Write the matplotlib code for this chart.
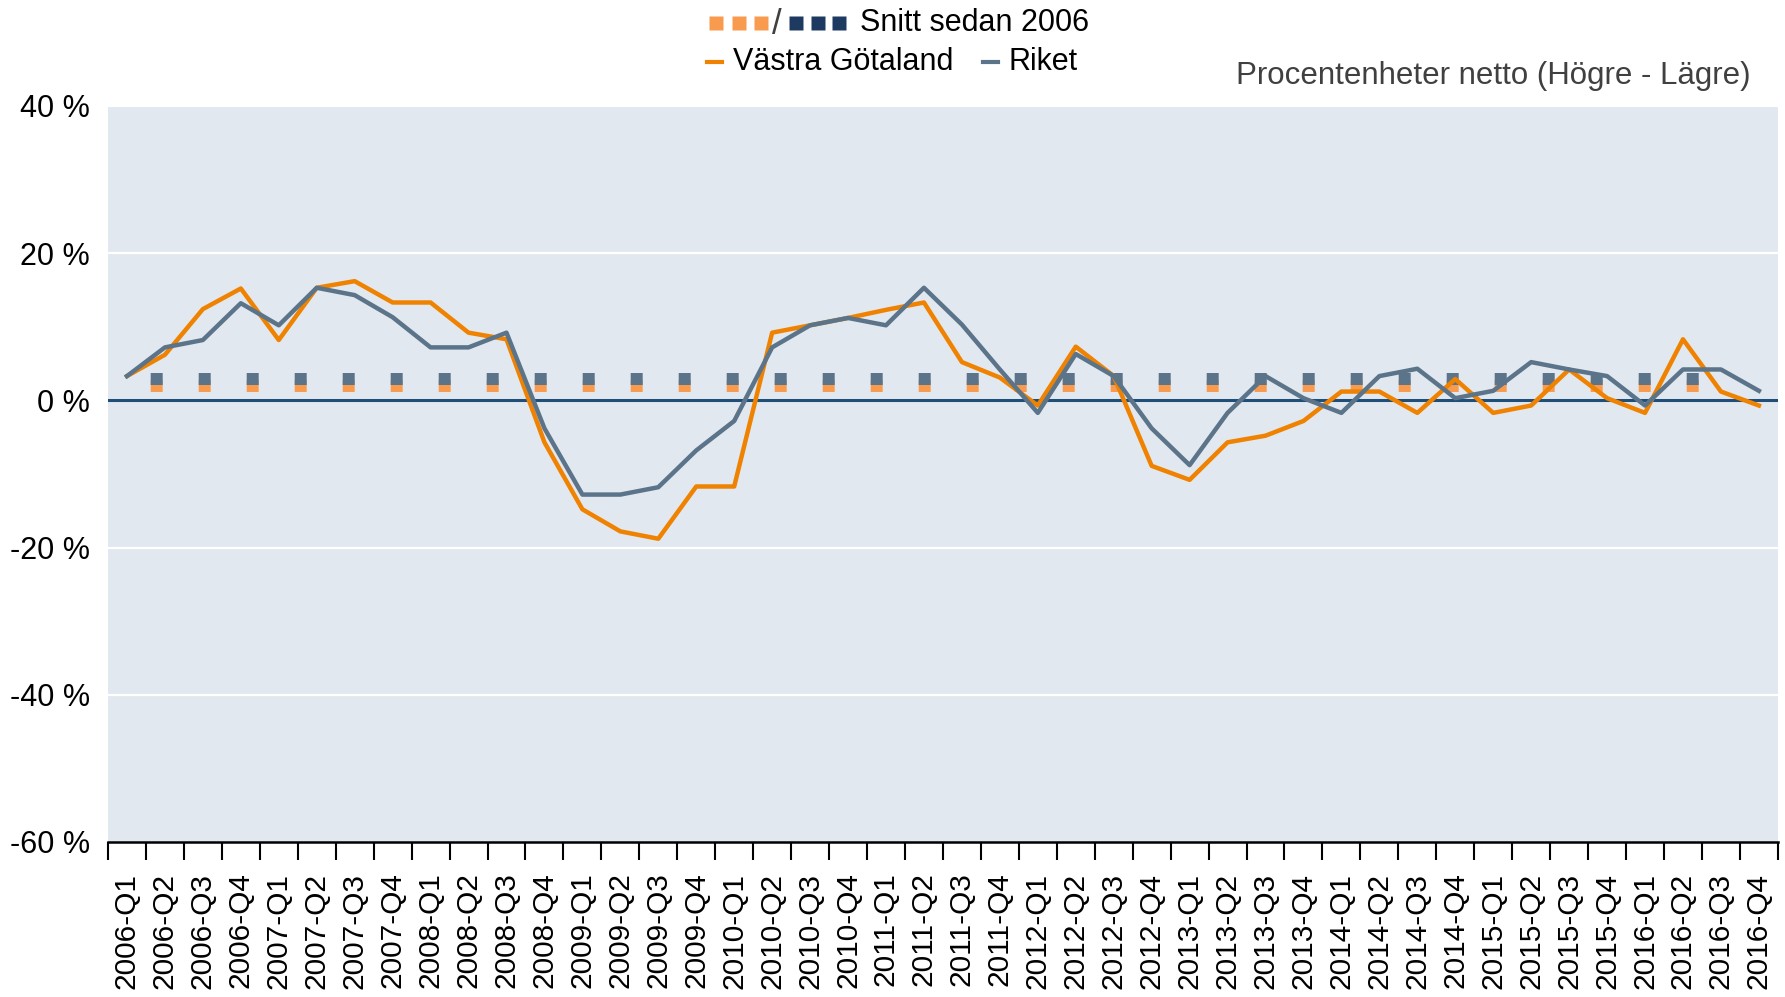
import matplotlib
matplotlib.use('Agg')
import matplotlib.pyplot as plt
from matplotlib.lines import Line2D
import numpy as np

plt.rcParams['font.family'] = ['Liberation Sans', 'DejaVu Sans']

# Quarter labels 2006-Q1 .. 2016-Q4
quarters = [f"{y}-Q{q}" for y in range(2006, 2017) for q in range(1, 5)]

# Net percentage points (higher - lower)
vastra_gotaland = [3.3, 6.2, 12.4, 15.2, 8.2, 15.3, 16.2, 13.3, 13.3, 9.2, 8.3,
                   -5.7, -14.8, -17.8, -18.8, -11.7, -11.7, 9.2, 10.2, 11.2, 12.3, 13.3,
                   5.2, 3.1, -0.7, 7.3, 3.3, -8.9, -10.8, -5.7, -4.8, -2.8, 1.2,
                   1.2, -1.7, 2.9, -1.7, -0.7, 4.2, 0.3, -1.7, 8.3, 1.2, -0.7]
riket = [3.3, 7.2, 8.2, 13.2, 10.2, 15.3, 14.3, 11.3, 7.2, 7.2, 9.2,
         -3.8, -12.8, -12.8, -11.8, -6.8, -2.8, 7.2, 10.2, 11.2, 10.2, 15.3,
         10.3, 4.2, -1.7, 6.3, 3.3, -3.8, -8.8, -1.7, 3.3, 0.3, -1.7,
         3.3, 4.3, 0.3, 1.3, 5.2, 4.2, 3.3, -0.7, 4.2, 4.2, 1.3]

# Average since 2006
snitt_vg = 2.0
snitt_riket = 2.9

yticks = [-60, -40, -20, 0, 20, 40]

orange = '#EF8200'
slate = '#5B7489'

fig = plt.figure(figsize=(17.85, 9.97), dpi=100)
ax = fig.add_axes([0.0605, 0.1555, 0.9355, 0.7382])
ax.set_facecolor('#E2E8EF')

x = np.arange(len(quarters))
ax.set_xlim(-0.5, len(quarters) - 0.5)
ax.set_ylim(-60, 40)

# white gridlines + dark zero line
for v in yticks[1:]:
    ax.axhline(v, color='white', lw=1.6, zorder=1)
ax.axhline(0, color='#1F4E79', lw=2.2, zorder=3)

# average lines drawn as square dots
sq = (2.025, (1, 3))
ax.plot([0, 42], [snitt_vg, snitt_vg], color='#F99B4F', lw=8.64, linestyle=sq,
        dash_capstyle='butt', zorder=4)
ax.plot([0, 42], [snitt_riket, snitt_riket], color=slate, lw=8.64, linestyle=sq,
        dash_capstyle='butt', zorder=5)

ax.plot(x, vastra_gotaland, color=orange, lw=3.2, zorder=6)
ax.plot(x, riket, color=slate, lw=3.2, zorder=7)

# axes styling
for s in ['left', 'right', 'top']:
    ax.spines[s].set_visible(False)
ax.spines['bottom'].set_color('black')
ax.spines['bottom'].set_linewidth(1.8)

ax.set_yticks(yticks)
ax.set_yticklabels([f"{v} %" for v in yticks], fontsize=22)
ax.tick_params(axis='y', length=0, pad=13)

ax.set_xticks(x)
ax.set_xticklabels(quarters, rotation=90, fontsize=21.5)
ax.set_xticks(np.arange(-0.5, len(quarters), 1), minor=True)
ax.tick_params(axis='x', which='major', length=0, pad=22)
ax.tick_params(axis='x', which='minor', length=13, width=1.5, color='black')

# legend built by hand
W, H = 1785, 997
def fx(px):
    return px / W
def fy(py):
    return 1 - py / H

for cx in [716, 739, 761]:
    fig.add_artist(Line2D([fx(cx)], [fy(23)], marker='s', ms=9.5, color='#F99B4F',
                          mec='none', transform=fig.transFigure))
for cx in [796, 818, 839]:
    fig.add_artist(Line2D([fx(cx)], [fy(23)], marker='s', ms=9.5, color='#1F3A60',
                          mec='none', transform=fig.transFigure))
fig.text(fx(777), fy(24), '/', fontsize=25, color='#404040', ha='center', va='center')
fig.text(fx(860), fy(23), 'Snitt sedan 2006', fontsize=22, ha='left', va='center')

fig.add_artist(Line2D([fx(707), fx(722)], [fy(62), fy(62)], color=orange, lw=3,
                      transform=fig.transFigure))
fig.text(fx(733), fy(62), 'Västra Götaland', fontsize=22, ha='left', va='center')
fig.add_artist(Line2D([fx(983), fx(998)], [fy(62), fy(62)], color=slate, lw=3,
                      transform=fig.transFigure))
fig.text(fx(1008), fy(62), 'Riket', fontsize=22, ha='left', va='center')

fig.text(fx(1751), fy(76), 'Procentenheter netto (Högre - Lägre)', fontsize=22.5,
         color='#404040', ha='right', va='center')

fig.savefig('out.png', dpi=100)
